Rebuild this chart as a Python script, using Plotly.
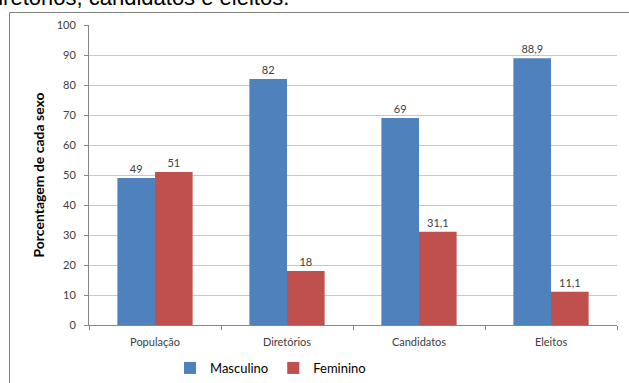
import plotly.graph_objects as go

categories = ["População", "Diretórios", "Candidatos", "Eleitos"]
masculino = [49, 82, 69, 88.9]
feminino = [51, 18, 31.1, 11.1]
masculino_labels = ["49", "82", "69", "88,9"]
feminino_labels = ["51", "18", "31,1", "11,1"]
y_ticks = [0, 10, 20, 30, 40, 50, 60, 70, 80, 90, 100]

W, H = 629, 383
L, R, T, B = 89, 12, 25, 58
pw = W - L - R
ph = H - T - B

def px_x(p):
    return (p - L) / pw

def px_y(p):
    return 1 - (p - T) / ph

fig = go.Figure()
fig.add_trace(go.Bar(
    name="Masculino", x=categories, y=masculino,
    marker=dict(color="#4F81BD", line=dict(width=0)),
    text=masculino_labels, textposition="outside", cliponaxis=False,
    textfont=dict(size=11, color="#404040", family="Lato"),
))
fig.add_trace(go.Bar(
    name="Feminino", x=categories, y=feminino,
    marker=dict(color="#C0504D", line=dict(width=0)),
    text=feminino_labels, textposition="outside", cliponaxis=False,
    textfont=dict(size=11, color="#404040", family="Lato"),
))

fig.update_layout(
    width=W, height=H,
    margin=dict(l=L, r=R, t=T, b=B, autoexpand=False),
    paper_bgcolor="white", plot_bgcolor="white",
    barmode="group", bargap=0.43, bargroupgap=0,
    font=dict(family="Lato", color="#404040", size=11),
    showlegend=True,
    legend=dict(orientation="h", x=px_x(170), xanchor="left",
                y=px_y(368), yanchor="middle",
                font=dict(size=13, color="#000000", family="Lato"),
                itemwidth=30, bgcolor="rgba(0,0,0,0)"),
    xaxis=dict(
        showline=True, linecolor="#868686", linewidth=1,
        ticks="outside", ticklen=4, tickcolor="#868686", tickson="boundaries",
        ticklabelstandoff=7,
        tickfont=dict(size=11, color="#404040", family="Lato"),
        showgrid=False, zeroline=False,
    ),
    yaxis=dict(
        range=[0, 100], tickvals=y_ticks,
        showline=True, linecolor="#868686", linewidth=1,
        ticks="outside", ticklen=4, tickcolor="#868686",
        ticklabelstandoff=6,
        tickfont=dict(size=11, color="#404040", family="Lato"),
        showgrid=True, gridcolor="#C8C8C8", gridwidth=1, zeroline=False,
        title=dict(text="<b>Porcentagem de cada sexo</b>",
                   font=dict(size=14, color="#000000", family="Lato"),
                   standoff=8),
    ),
)

# chart border (left and top visible)
fig.add_shape(type="rect", xref="paper", yref="paper",
              x0=px_x(9.5), x1=px_x(700), y0=px_y(420), y1=px_y(12.5),
              line=dict(color="#808080", width=1), fillcolor="rgba(0,0,0,0)",
              layer="below")

# cropped caption text at top
fig.add_annotation(text="diretórios, candidatos e eleitos.",
                   xref="paper", yref="paper",
                   x=px_x(291), xanchor="right",
                   y=px_y(-3), yanchor="middle",
                   showarrow=False,
                   font=dict(family="Liberation Sans", size=22, color="#000000"))

fig.write_html("out.html")
